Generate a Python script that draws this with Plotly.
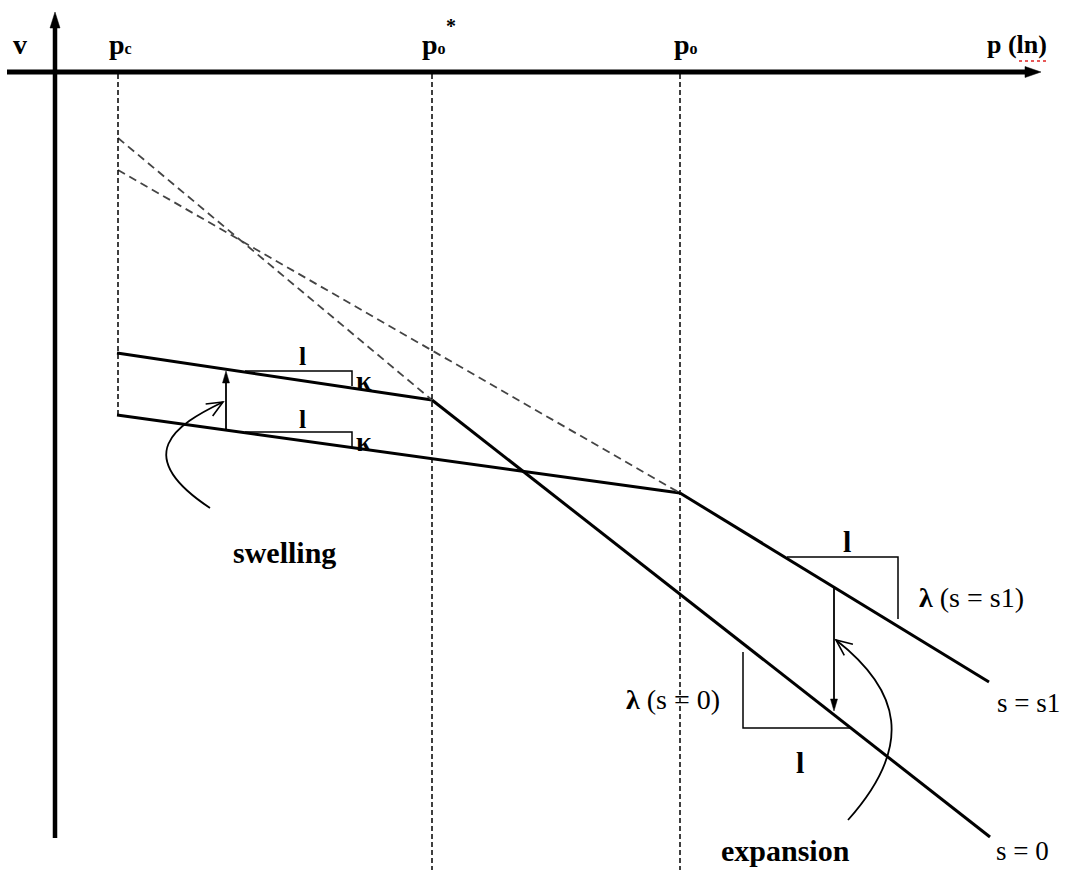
import math
import plotly.graph_objects as go

# ---- schematic coordinates (ln p to the right, v downward in screen units) ----
# reference pressures on the ln p axis
p_tick_x = [118, 432, 680]
p_tick_labels = [
    "p<span style='font-size:16px'>c</span>",
    "p<span style='font-size:16px'>o</span>",
    "p<span style='font-size:16px'>o</span>",
]

# unloading-reloading (kappa) lines
kappa_upper_x = [117, 432]
kappa_upper_v = [353, 400]
kappa_lower_x = [117, 680]
kappa_lower_v = [415, 493]

# normal compression lines
ncl_s0_x = [432, 990]
ncl_s0_v = [400, 837]
ncl_s1_x = [680, 989]
ncl_s1_v = [493, 682]

# dashed back-extensions of the compression lines
ext_s0_x = [118, 432]
ext_s0_v = [138, 400]
ext_s1_x = [118, 680]
ext_s1_v = [170, 493]

# axes
axis_origin = (55, 72)
axis_x_end = 1041
axis_y_end = 12
axis_y_bottom = 838
axis_x_start = 7

FONT = "Liberation Serif"
BLACK = "#000000"

fig = go.Figure()

def add_line(xs, ys, width=3, dash="solid", color=BLACK):
    fig.add_trace(go.Scatter(x=xs, y=ys, mode="lines",
                             line=dict(color=color, width=width, dash=dash),
                             hoverinfo="skip", showlegend=False))

# compression and swelling lines
add_line(kappa_upper_x, kappa_upper_v)
add_line(kappa_lower_x, kappa_lower_v)
add_line(ncl_s0_x, ncl_s0_v)
add_line(ncl_s1_x, ncl_s1_v)
add_line(ext_s0_x, ext_s0_v, width=1.8, dash="8px,5px", color="#444444")
add_line(ext_s1_x, ext_s1_v, width=1.8, dash="8px,5px", color="#444444")

shapes = []

def seg(x0, y0, x1, y1, width=1.5, dash="solid", color=BLACK):
    shapes.append(dict(type="line", x0=x0, y0=y0, x1=x1, y1=y1,
                       xref="x", yref="y",
                       line=dict(color=color, width=width, dash=dash)))

def path(d, width=1.5, fill=None, color=BLACK):
    s = dict(type="path", path=d, xref="x", yref="y",
             line=dict(color=color, width=width))
    if fill:
        s["fillcolor"] = fill
    shapes.append(s)

def head(tip, direction, length, half_w, filled=True, width=1.5):
    """Arrowhead at tip pointing along direction."""
    dx, dy = direction
    n = math.hypot(dx, dy)
    ux, uy = dx / n, dy / n
    px, py = -uy, ux
    bx, by = tip[0] - ux * length, tip[1] - uy * length
    b1 = (bx + px * half_w, by + py * half_w)
    b2 = (bx - px * half_w, by - py * half_w)
    if filled:
        d = f"M {b1[0]} {b1[1]} L {tip[0]} {tip[1]} L {b2[0]} {b2[1]} Z"
        path(d, width=0.5, fill=BLACK)
    else:
        d = f"M {b1[0]} {b1[1]} L {tip[0]} {tip[1]} L {b2[0]} {b2[1]}"
        path(d, width=width)

# main axes
ox, oy = axis_origin
seg(axis_x_start, oy, axis_x_end - 12, oy, width=5)
head((axis_x_end, oy), (1, 0), 16, 5.5)
seg(ox, axis_y_bottom, ox, axis_y_end + 12, width=4.5)
head((ox, axis_y_end), (0, -1), 16, 5)

# dashed reference verticals
seg(p_tick_x[0], oy + 2, p_tick_x[0], kappa_lower_v[0], width=1.5, dash="5px,3px")
seg(p_tick_x[1], oy + 2, p_tick_x[1], 870, width=1.5, dash="5px,3px")
seg(p_tick_x[2], oy + 2, p_tick_x[2], 870, width=1.5, dash="5px,3px")

# slope triangles
path("M 245 371 L 352 371 L 352 386")
path("M 245 432 L 352 432 L 352 447")
path("M 787 557 L 898 557 L 898 619")
path("M 743 652 L 743 728 L 850 728")

# swelling: vertical arrow between the kappa lines
seg(226, 430, 226, 380, width=1.8)
head((226, 371), (0, -1), 12, 3.5)
# curved pointer to the swelling arrow
path("M 210 508 C 130 455, 175 425, 223 402", width=1.8)
head((223, 402), (45, -26), 16, 7, filled=False, width=1.6)

# expansion: vertical arrow from s = s1 down to s = 0
seg(834, 588, 834, 700, width=1.8)
head((834, 711), (0, 1), 12, 3.5)
# curved pointer to the expansion arrow
path("M 848 820 C 915 745, 900 690, 836 640", width=1.8)
head((836, 640), (-64, -50), 16, 7, filled=False, width=1.6)

# red spell-check squiggle under "ln"
seg(1019, 61, 1046, 61, width=1.5, dash="dot", color="#e02020")

annotations = []

def label(x, y, text, size=24, bold=True, xanchor="center", yanchor="middle"):
    t = f"<b>{text}</b>" if bold else text
    annotations.append(dict(x=x, y=y, xref="x", yref="y", text=t, showarrow=False,
                            xanchor=xanchor, yanchor=yanchor,
                            font=dict(family=FONT, size=size, color=BLACK)))

# axis labels
label(20, 44, "v", size=28)
label(p_tick_x[0] + 2, 44, p_tick_labels[0], size=28)
label(p_tick_x[1] + 2, 44, p_tick_labels[1], size=28)
label(451, 26, "*", size=20)
label(p_tick_x[2] + 6, 44, p_tick_labels[2], size=28)
label(1017, 44, "p (ln)", size=26)

# slope annotations
label(302, 356, "l", size=26)
label(364, 380, "κ", size=28)
label(302, 419, "l", size=26)
label(364, 441, "κ", size=28)
label(847, 541, "l", size=30)
label(800, 762, "l", size=30)
label(917, 597, "λ <span style='font-weight:normal'>(s = s1)</span>", size=28,
      xanchor="left")
label(722, 699, "λ <span style='font-weight:normal'>(s = 0)</span>", size=28,
      xanchor="right")

# line names and process labels
label(995, 703, "s = s1", size=27, bold=False, xanchor="left")
label(994, 851, "s = 0", size=27, bold=False, xanchor="left")
label(284, 552, "swelling", size=30)
label(785, 850, "expansion", size=30)

fig.update_layout(
    width=1065, height=870,
    margin=dict(l=0, r=0, t=0, b=0),
    paper_bgcolor="white", plot_bgcolor="white",
    xaxis=dict(range=[0, 1065], visible=False, fixedrange=True),
    yaxis=dict(range=[870, 0], visible=False, fixedrange=True),
    shapes=shapes, annotations=annotations,
    showlegend=False,
)

fig.write_html("out.html")
